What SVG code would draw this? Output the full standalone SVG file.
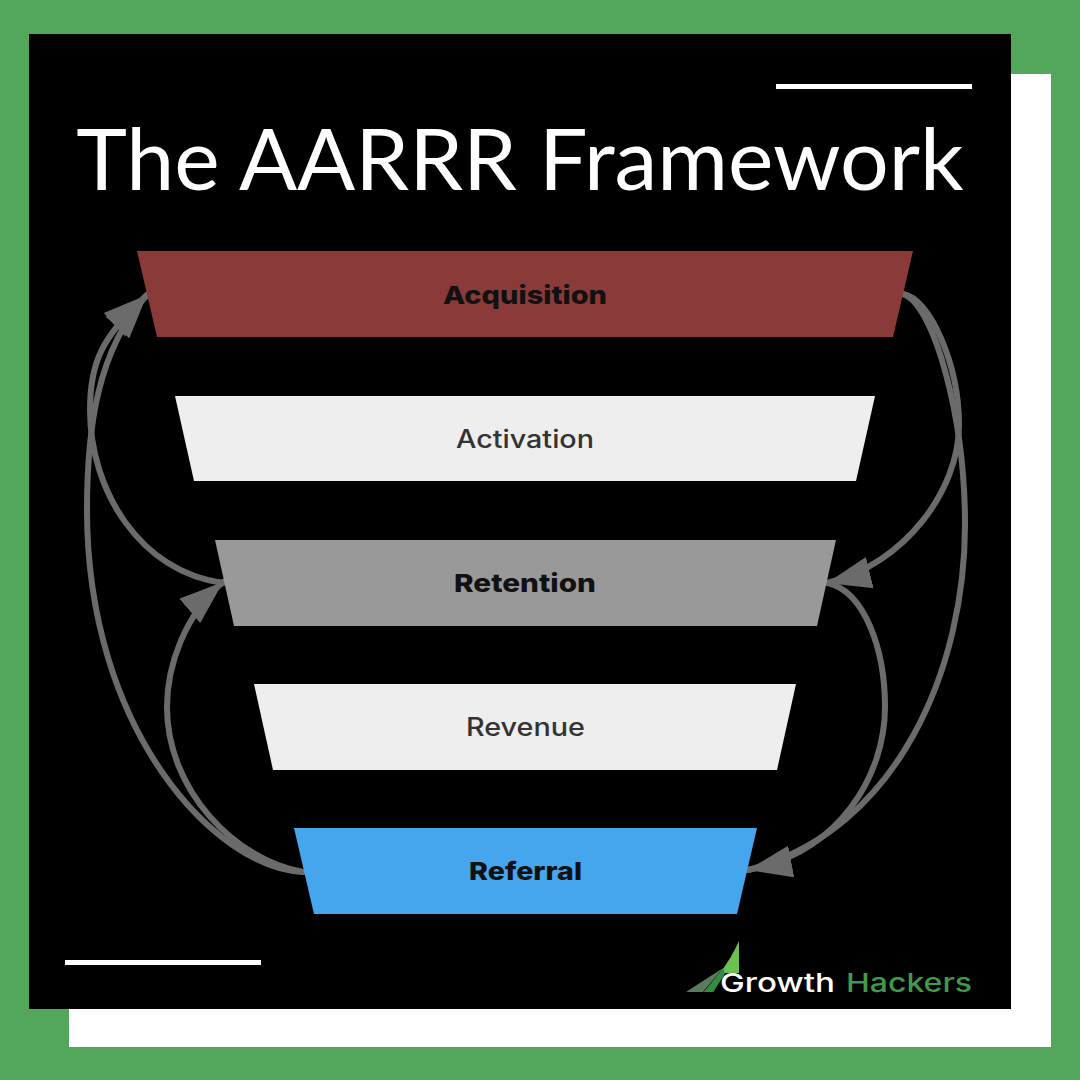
<svg xmlns="http://www.w3.org/2000/svg" width="1080" height="1080" viewBox="0 0 1080 1080">
<style>
.lbl{font-family:"Inter","Open Sans",sans-serif;font-size:25px;text-anchor:start;fill:#333;font-weight:500}
.b{font-weight:800;fill:#111}
.c{fill:none;stroke:#6b6b6b;stroke-width:6;stroke-linecap:round}
.rule{fill:#fff}
.lg{font-family:"Inter",sans-serif;font-size:26px;font-weight:500}
</style>
<defs>
<marker id="arrow" markerUnits="userSpaceOnUse" markerWidth="50" markerHeight="40" refX="44" refY="17" orient="auto"><path d="M0 1L44 17L0 33Z" fill="#6b6b6b"/></marker>
</defs>
<rect width="1080" height="1080" fill="#53a75b"/>
<rect x="69" y="74" width="982" height="973" fill="#fff"/>
<rect x="29" y="34" width="982" height="975" fill="#000"/>
<rect class="rule" x="776" y="84" width="196" height="5"/>
<rect class="rule" x="65" y="960" width="196" height="5"/>
<text x="520" y="190" font-family="Lato, sans-serif" font-size="86" fill="#fff" text-anchor="middle">The AARRR Framework</text>
<g id="connectors">
<path class="c" marker-end="url(#arrow)" d="M903 294C930 298 959 365 959 425C959 490 905 564 827 583"/>
<path class="c" d="M903 294C935 305 965 420 965 525C965 665 900 830 748 870"/>
<path class="c" marker-end="url(#arrow)" d="M828 583C865 592 885 650 885 707C885 775 840 852 748 870"/>
<path class="c" marker-end="url(#arrow)" d="M223 583C140 572 90 490 90 410C90 365 100 338 147 295"/>
<path class="c" marker-end="url(#arrow)" d="M303 872C215 868 87 730 87 510C87 430 97 350 147 295"/>
<path class="c" marker-end="url(#arrow)" d="M303 872C235 860 167 790 167 707C167 665 185 615 223 582"/>
</g>
<g id="acquisition"><polygon points="137,251 913,251 893,337 157,337" fill="#8a3a38"/><text class="lbl b" x="443" y="304" textLength="164" lengthAdjust="spacingAndGlyphs">Acquisition</text></g>
<g id="activation"><polygon points="175,396 875,396 856,481 194,481" fill="#eeeeee"/><text class="lbl" x="456" y="448" textLength="138" lengthAdjust="spacingAndGlyphs">Activation</text></g>
<g id="retention"><polygon points="215,540 836,540 817,626 234,626" fill="#999999"/><text class="lbl b" x="454" y="592" textLength="142" lengthAdjust="spacingAndGlyphs">Retention</text></g>
<g id="revenue"><polygon points="254,684 796,684 777,770 273,770" fill="#eeeeee"/><text class="lbl" x="466" y="736" textLength="119" lengthAdjust="spacingAndGlyphs">Revenue</text></g>
<g id="referral"><polygon points="294,828 757,828 737,914 314,914" fill="#45a6ee"/><text class="lbl b" x="469" y="880" textLength="113" lengthAdjust="spacingAndGlyphs">Referral</text></g>
<g id="logo">
<path d="M739 941L739 973L725 973L713 992L704 992C715 980 728 965 739 941Z" fill="#6cc04f"/>
<path d="M723 968L704 992L713 992L725 973Z" fill="#2f8f3c"/>
<path d="M723 968L686 992L703 992Z" fill="#5b7a62"/>
<text class="lg" x="720" y="992" fill="#fff" textLength="115" lengthAdjust="spacingAndGlyphs">Growth</text>
<text class="lg" x="846" y="992" fill="#3f9a4a" textLength="126" lengthAdjust="spacingAndGlyphs">Hackers</text>
</g>
</svg>
